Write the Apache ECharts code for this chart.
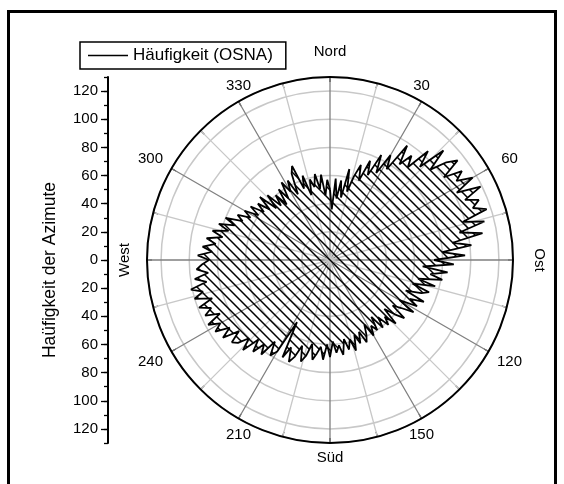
<!DOCTYPE html>
<html>
<head>
<meta charset="utf-8">
<script src="https://cdn.jsdelivr.net/npm/echarts@6.0.0/dist/echarts.min.js"></script>
<style>
html, body { margin: 0; padding: 0; background: #fff; }
#main { width: 564px; height: 484px; }
</style>
</head>
<body>
<div id="main"></div>
<script>
var chart = echarts.init(document.getElementById('main'));

var FONT = 'Liberation Sans, Arial, sans-serif';
var seriesName = 'Häufigkeit (OSNA)';
var binWidth = 2; // Klassenbreite in Grad

// Häufigkeit je 2°-Klasse, ab 0° (Nord) im Uhrzeigersinn
var haeufigkeit = [
  50, 36, 58, 44, 57,   45, 66, 50, 62, 71,
  60, 76, 66, 83, 70,   86, 76, 98, 84, 94,
  86, 104, 92, 112, 96, 108, 115, 100, 113, 106,
  117, 102, 119, 105, 114, 108, 117, 98, 113, 94,
  110, 88, 101, 80, 96, 74, 88, 66, 84, 72,
  81, 64, 77, 61, 74,   69, 58, 73, 63, 70,
  57, 70, 61, 55, 67,   60, 52, 65, 56, 62,
  53, 61, 50, 60, 55,   62, 52, 59, 64, 55,
  63, 56, 67, 58, 65,   57, 68, 61, 66, 58,
  69, 60, 71, 62, 67,   72, 61, 70, 75, 64,
  73, 78, 68, 77, 50,   75, 80, 70, 83, 76,
  85, 76, 89, 80, 88,   91, 82, 94, 86, 96,
  90, 98, 87, 97, 91,   99, 88, 100, 93, 101,
  89, 97, 87, 95, 91,   86, 94, 84, 91, 82,
  89, 78, 86, 75, 83,   72, 80, 68, 73, 64,
  70, 60, 68, 58, 65,   56, 67, 53, 64, 52,
  60, 50, 62, 53, 65,   56, 64, 52, 67, 72,
  54, 63, 48, 59, 53,   62, 51, 61, 46, 57
];

var radiusTicks = [-120, -100, -80, -60, -40, -20, 0, 20, 40, 60, 80, 100, 120];
var angleLabels = [30, 60, 120, 150, 210, 240, 300, 330];
var cardinal = { 0: 'Nord', 90: 'Ost', 180: 'Süd', 270: 'West' };

var cx = 330, cy = 260, R = 183;

// Punkte [radius, winkel], Ring schließen
var pts = [];
for (var i = 0; i < haeufigkeit.length; i++) {
  pts.push([haeufigkeit[i], i * binWidth]);
}
pts.push([haeufigkeit[0], 360]);

// Schraffur
function hatch() {
  var s = 10;
  var c = document.createElement('canvas');
  c.width = s; c.height = s;
  var ctx = c.getContext('2d');
  ctx.strokeStyle = '#000';
  ctx.lineWidth = 1.5;
  ctx.beginPath();
  ctx.moveTo(-1, -1); ctx.lineTo(s + 1, s + 1);
  ctx.moveTo(s - 1, -1); ctx.lineTo(s + 1, 1);
  ctx.moveTo(-1, s - 1); ctx.lineTo(1, s + 1);
  ctx.stroke();
  return c;
}

// Winkelbeschriftung wie im Original: oben/unten bzw. seitlich vom Kreisrand
function angleText(a) {
  var rad = a * Math.PI / 180, s = Math.sin(rad), c = Math.cos(rad);
  var x = cx + R * s, y = cy - R * c;
  if (Math.abs(s) < 0.7) {
    y -= 16 * Math.sign(c);
  } else {
    x += 21 * Math.sign(s);
    y -= 10 * Math.sign(c);
  }
  return {
    type: 'text', x: x, y: y, silent: true,
    style: { text: String(a), font: '15px ' + FONT, fill: '#000', align: 'center', verticalAlign: 'middle' }
  };
}

var graphics = [
  { type: 'rect', silent: true, shape: { x: 8.5, y: 11.5, width: 547, height: 480 },
    style: { fill: 'none', stroke: '#000', lineWidth: 3 } },
  { type: 'text', x: cx, y: 52, style: { text: cardinal[0], font: '15px ' + FONT, fill: '#000', align: 'center', verticalAlign: 'middle' } },
  { type: 'text', x: 539, y: cy, rotation: -Math.PI / 2, style: { text: cardinal[90], font: '15px ' + FONT, fill: '#000', align: 'center', verticalAlign: 'middle' } },
  { type: 'text', x: cx, y: 458, style: { text: cardinal[180], font: '15px ' + FONT, fill: '#000', align: 'center', verticalAlign: 'middle' } },
  { type: 'text', x: 125, y: cy, rotation: Math.PI / 2, style: { text: cardinal[270], font: '15px ' + FONT, fill: '#000', align: 'center', verticalAlign: 'middle' } }
];
angleLabels.forEach(function (a) { graphics.push(angleText(a)); });

var option = {
  animation: false,
  textStyle: { fontFamily: FONT },
  legend: {
    data: [{ name: seriesName, icon: 'rect' }],
    left: 80, top: 42,
    padding: [5, 13, 5, 8],
    itemWidth: 40, itemHeight: 1.6,
    borderColor: '#000', borderWidth: 1.5, borderRadius: 0,
    textStyle: { fontSize: 17, color: '#000', fontFamily: FONT }
  },
  polar: { center: [cx, cy], radius: R },
  angleAxis: {
    type: 'value', min: 0, max: 360, interval: 15,
    startAngle: 90, clockwise: true,
    axisLine: { lineStyle: { color: '#000', width: 2 } },
    axisTick: { show: true, inside: true, length: 5, lineStyle: { color: '#000', width: 1.2 } },
    axisLabel: { show: false },
    splitLine: { show: true, lineStyle: { color: ['#808080', '#c8c8c8'], width: 1.3 } }
  },
  radiusAxis: {
    type: 'value', min: 0, max: 130, interval: 20,
    axisLine: { show: false }, axisTick: { show: false }, axisLabel: { show: false },
    splitLine: { show: true, lineStyle: { color: '#c8c8c8', width: 1.5 } }
  },
  grid: { left: 108, top: cy - R, width: 1, height: 2 * R },
  xAxis: { type: 'value', show: false },
  yAxis: [{
    type: 'value', min: -130, max: 130, interval: 10, position: 'left',
    axisLine: { show: true, lineStyle: { color: '#000', width: 2 } },
    axisTick: { show: true, length: 4, lineStyle: { color: '#000', width: 1.3 } },
    axisLabel: {
      margin: 10, fontSize: 15, color: '#000', fontFamily: FONT,
      formatter: function (v) { return v % 20 === 0 ? String(Math.abs(v)) : ''; }
    },
    splitLine: { show: false },
    name: 'Haüfigkeit der Azimute', nameLocation: 'middle', nameGap: 49, nameRotate: 90,
    nameTextStyle: { fontSize: 17.5, color: '#000', fontFamily: FONT, padding: [0, 20, 0, 0] }
  }, {
    type: 'value', min: -130, max: 130, position: 'left',
    axisLine: { show: false }, axisLabel: { show: false }, splitLine: { show: false },
    axisTick: { show: true, length: 7, customValues: radiusTicks, lineStyle: { color: '#000', width: 1.3 } }
  }],
  series: [{
    type: 'line',
    name: seriesName,
    coordinateSystem: 'polar',
    data: pts,
    symbol: 'none',
    lineStyle: { color: '#000', width: 1.8 },
    itemStyle: { color: '#000' },
    areaStyle: { color: { image: hatch(), repeat: 'repeat' }, opacity: 1 },
    z: 5
  }],
  graphic: graphics
};

chart.setOption(option);
</script>
</body>
</html>
